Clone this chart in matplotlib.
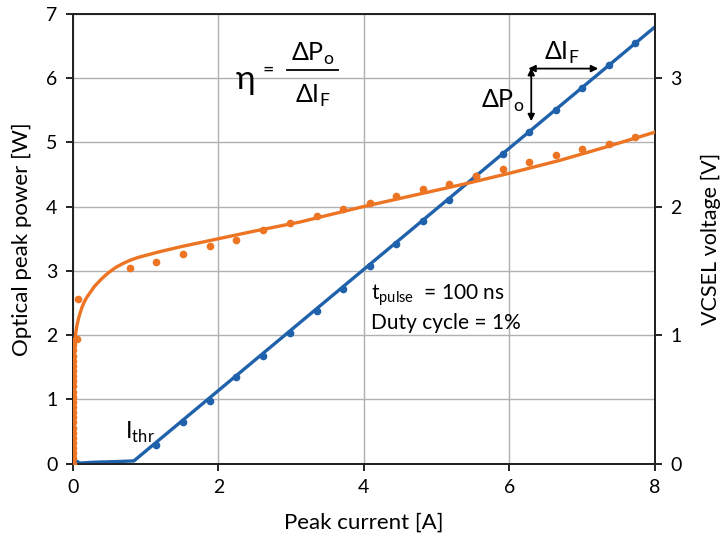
import numpy as np
import matplotlib.pyplot as plt

plt.rcParams['font.family'] = ['Lato', 'DejaVu Sans']
plt.rcParams['mathtext.fontset'] = 'custom'
plt.rcParams['mathtext.rm'] = 'Lato'

# optical power (left axis) - measured points
power_current = [0.04, 1.15, 1.52, 1.88, 2.25, 2.61, 2.98, 3.35, 3.71, 4.08, 4.44,
                 4.81, 5.17, 5.54, 5.91, 6.27, 6.64, 7.00, 7.37, 7.73]
power_watts = [0.01, 0.29, 0.64, 0.98, 1.34, 1.68, 2.03, 2.38, 2.72, 3.08, 3.42,
               3.77, 4.11, 4.47, 4.82, 5.16, 5.51, 5.85, 6.21, 6.55]
# optical power fit line
power_fit_current = [0.0, 0.3, 0.6, 0.84, 8.0]
power_fit_watts = [0.0, 0.02, 0.03, 0.04, 6.80]

# voltage (right axis) - measured points
volt_current = [0.005, 0.005, 0.005, 0.005, 0.005, 0.005, 0.005, 0.005, 0.005, 0.005,
                0.005, 0.005, 0.005, 0.005, 0.005, 0.005, 0.005, 0.005, 0.005, 0.005,
                0.005, 0.005, 0.005, 0.005, 0.005, 0.06, 0.07,
                0.79, 1.15, 1.52, 1.88, 2.25, 2.61, 2.98, 3.35, 3.71, 4.08, 4.44,
                4.81, 5.17, 5.54, 5.91, 6.27, 6.64, 7.00, 7.37, 7.73]
volt_values = [0.00, 0.04, 0.08, 0.12, 0.16, 0.20, 0.24, 0.28, 0.32, 0.36,
               0.40, 0.44, 0.48, 0.52, 0.56, 0.60, 0.64, 0.68, 0.72, 0.76,
               0.80, 0.84, 0.88, 0.92, 0.95, 0.97, 1.28,
               1.52, 1.57, 1.63, 1.69, 1.74, 1.82, 1.87, 1.93, 1.98, 2.03, 2.08,
               2.14, 2.18, 2.24, 2.29, 2.35, 2.40, 2.45, 2.49, 2.54]
# voltage fit curve
volt_fit_current = [0.0, 0.01, 0.02, 0.03, 0.045, 0.06, 0.08, 0.1, 0.13, 0.16, 0.2,
                    0.25, 0.3, 0.4, 0.5, 0.6, 0.7, 0.8, 0.9, 1.0, 1.2, 1.5, 2.0,
                    2.5, 3.12, 3.99, 4.7, 5.41, 6.0, 6.69, 7.3, 8.0]
volt_fit_values = [0.0, 0.5, 0.85, 0.96, 1.03, 1.08, 1.13, 1.17, 1.22, 1.26, 1.30,
                   1.34, 1.38, 1.44, 1.49, 1.53, 1.56, 1.585, 1.605, 1.62, 1.65,
                   1.69, 1.75, 1.81, 1.88, 2.00, 2.09, 2.18, 2.26, 2.36, 2.46, 2.58]

blue = '#1f62ab'
orange = '#ec7423'

fig = plt.figure(figsize=(7.28, 5.43), dpi=100)
ax = fig.add_axes([0.0999, 0.1464, 0.7998, 0.8278])
ax2 = ax.twinx()

ax.plot(power_fit_current, power_fit_watts, color=blue, lw=2.4, zorder=3)
ax.plot(power_current, power_watts, 'o', color=blue, ms=4.5, zorder=4)

ax2.plot(volt_fit_current, volt_fit_values, color=orange, lw=2.4, zorder=3)
ax2.plot(volt_current, volt_values, 'o', color=orange, ms=4.5, zorder=4)

ax.set_xlim(0, 8)
ax.set_ylim(0, 7)
ax2.set_ylim(0, 3.5)
ax.set_xticks([0, 2, 4, 6, 8])
ax.set_yticks(range(8))
ax2.set_yticks([0, 1, 2, 3])
ax.grid(True, color='#b0b0b0', lw=1.0)
ax.set_axisbelow(True)

for a in (ax, ax2):
    a.tick_params(direction='out', length=5, width=1.2, labelsize=14, pad=6)
    for s in a.spines.values():
        s.set_linewidth(1.3)
        s.set_color('#222222')

ax.set_xlabel('Peak current [A]', fontsize=16, labelpad=12)
ax.set_ylabel('Optical peak power [W]', fontsize=16, labelpad=10)
ax2.set_ylabel('VCSEL voltage [V]', fontsize=15.5, labelpad=14)

# annotations
ax.text(0.72, 0.49, r'I$_{\rm thr}$', fontsize=17, va='center', ha='left')
ax.text(4.1, 2.62, r't$_{\rm pulse}$  = 100 ns', fontsize=15, va='center', ha='left')
ax.text(4.1, 2.19, 'Duty cycle = 1%', fontsize=15, va='center', ha='left')

# efficiency formula
ax.text(2.37, 5.98, 'η', fontsize=24, va='center', ha='center')
ax.text(2.68, 6.12, '=', fontsize=14, va='center', ha='center')
ax.plot([2.95, 3.65], [6.13, 6.13], color='black', lw=1.3)
ax.text(3.3, 6.38, r'$\Delta$P$_{\rm o}$', fontsize=18, va='center', ha='center')
ax.text(3.3, 5.72, r'$\Delta$I$_{\rm F}$', fontsize=18, va='center', ha='center')

# delta arrows
ax.annotate('', xy=(7.22, 6.15), xytext=(6.26, 6.15),
            arrowprops=dict(arrowstyle='<|-|>', color='black', lw=1.3,
                            mutation_scale=10, shrinkA=0, shrinkB=0))
ax.annotate('', xy=(6.30, 5.33), xytext=(6.30, 6.16),
            arrowprops=dict(arrowstyle='<|-|>', color='black', lw=1.3,
                            mutation_scale=10, shrinkA=0, shrinkB=0))
ax.text(6.72, 6.40, r'$\Delta$I$_{\rm F}$', fontsize=18, va='center', ha='center')
ax.text(6.20, 5.65, r'$\Delta$P$_{\rm o}$', fontsize=18, va='center', ha='right')

fig.savefig('out.png', dpi=100)
